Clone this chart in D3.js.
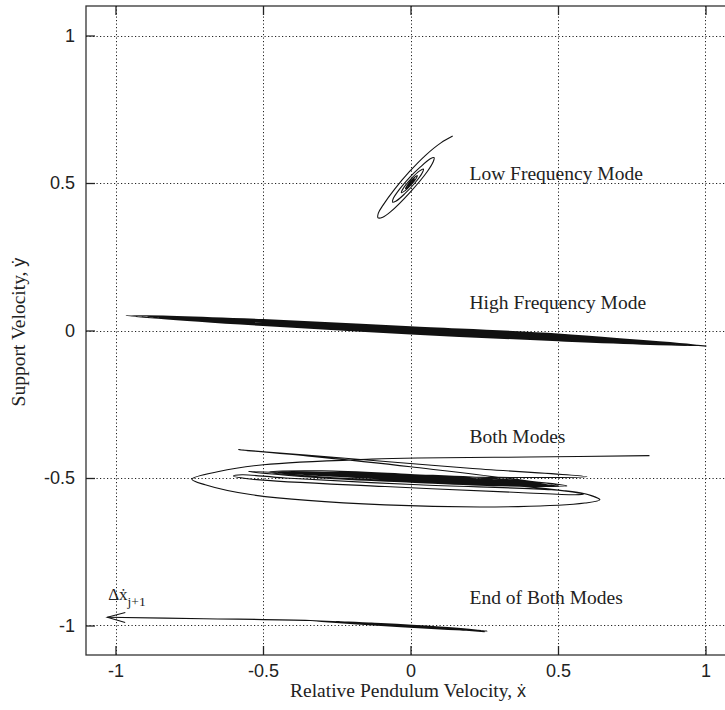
<!DOCTYPE html>
<html>
<head>
<meta charset="utf-8">
<script src="https://cdn.jsdelivr.net/npm/d3@7"></script>
<style>
  body { margin: 0; background: #fff; }
  svg { display: block; }
</style>
</head>
<body>
<div id="chart"></div>
<script>
// axis ticks (same on both axes)
const tickValues = [-1, -0.5, 0, 0.5, 1];

// trajectories [x-dot, y-dot]
const lowFrequency = [
  [0.143, 0.659], [0.103, 0.636], [0.050, 0.593], [-0.003, 0.539], [-0.053, 0.480], [-0.093, 0.425],
  [-0.109, 0.398], [-0.110, 0.382], [-0.094, 0.384], [-0.068, 0.402], [0.000, 0.470], [0.057, 0.539],
  [0.077, 0.572], [0.080, 0.586], [0.067, 0.582], [0.030, 0.551], [-0.002, 0.520], [-0.037, 0.479],
  [-0.059, 0.446], [-0.061, 0.435], [-0.050, 0.438], [-0.020, 0.463], [0.015, 0.500], [0.039, 0.533],
  [0.044, 0.547], [0.031, 0.541], [0.001, 0.513], [-0.025, 0.481], [-0.031, 0.467], [-0.017, 0.475],
  [0.000, 0.492], [0.017, 0.512], [0.023, 0.525], [0.000, 0.506], [-0.017, 0.481], [0.000, 0.495],
  [0.013, 0.514], [0.000, 0.504], [-0.009, 0.490], [0.000, 0.497], [0.007, 0.507], [-0.001, 0.501],
  [-0.005, 0.495], [0.004, 0.504], [-0.002, 0.498], [0.000, 0.500]
];

const highFrequency = [
  [1.003, -0.053], [0.5, -0.012], [0, 0.0125], [-0.5, 0.037],
  [-0.964, 0.051], [-0.5, 0.017], [0, -0.0115], [0.5, -0.035],
  [0.98, -0.051], [0.5, -0.014], [0, 0.011], [-0.5, 0.035],
  [-0.93, 0.048], [-0.5, 0.018], [0, -0.010], [0.5, -0.034],
  [0.955, -0.050], [0.5, -0.016], [0, 0.009], [-0.5, 0.034],
  [-0.91, 0.047], [-0.5, 0.019], [0, -0.008], [0.5, -0.033],
  [0.935, -0.048], [0.5, -0.018], [0, 0.007], [-0.5, 0.032],
  [-0.89, 0.046], [-0.5, 0.020], [0, -0.006], [0.5, -0.031],
  [0.91, -0.047], [0.5, -0.020], [0, 0.005], [-0.5, 0.031],
  [-0.87, 0.045], [-0.5, 0.021], [0, -0.004], [0.5, -0.030],
  [0.89, -0.046], [0.5, -0.021], [0, 0.003], [-0.5, 0.030],
  [-0.85, 0.044], [-0.5, 0.022], [0, -0.002], [0.5, -0.029],
  [0.87, -0.045], [0.5, -0.023], [0, 0.001], [-0.5, 0.028],
  [-0.82, 0.042], [-0.5, 0.024], [0, 0.000], [0.5, -0.027],
  [0.84, -0.043], [0.5, -0.025], [0, 0.0]
];

const bothModes = [
  [0.81, -0.424], [0.40, -0.429], [0.026, -0.432], [-0.131, -0.436], [-0.498, -0.455], [-0.650, -0.478],
  [-0.741, -0.504], [-0.696, -0.523], [-0.537, -0.557], [-0.086, -0.591], [0.365, -0.597], [0.591, -0.585],
  [0.642, -0.574], [0.580, -0.551], [0.478, -0.540], [0.027, -0.523], [-0.425, -0.500], [-0.571, -0.489],
  [-0.600, -0.493], [-0.537, -0.504], [-0.086, -0.529], [0.365, -0.549], [0.557, -0.557], [0.586, -0.555],
  [0.40, -0.530], [0, -0.510], [-0.3, -0.490],
  [-0.55, -0.478], [-0.3, -0.500], [0, -0.514], [0.3, -0.526], [0.53, -0.527], [0.3, -0.503], [0, -0.488], [-0.3, -0.476],
  [-0.48, -0.480], [-0.3, -0.497], [0, -0.511], [0.3, -0.523], [0.50, -0.526],
  [0.0, -0.462], [-0.35, -0.425], [-0.583, -0.404], [-0.2, -0.435], [0.2, -0.467], [0.598, -0.496],
  [0.3, -0.498], [0, -0.493], [-0.3, -0.484],
  [-0.42, -0.482], [-0.2, -0.496], [0.1, -0.509], [0.3, -0.520], [0.47, -0.524], [0.3, -0.507], [0, -0.492], [-0.2, -0.481],
  [-0.36, -0.484], [-0.2, -0.494], [0.1, -0.507], [0.3, -0.518], [0.45, -0.522], [0.25, -0.507], [0, -0.494], [-0.2, -0.484],
  [-0.45, -0.481], [-0.2, -0.497], [0.1, -0.512], [0.3, -0.522], [0.50, -0.528], [0.3, -0.510], [0, -0.494], [-0.2, -0.485],
  [-0.40, -0.481], [-0.2, -0.493], [0.1, -0.508], [0.35, -0.521], [0.48, -0.525], [0.3, -0.512], [0, -0.497], [-0.2, -0.487],
  [-0.35, -0.483], [-0.1, -0.500], [0.2, -0.515], [0.44, -0.524], [0.2, -0.510], [-0.1, -0.494],
  [-0.30, -0.487], [-0.1, -0.498], [0.15, -0.509], [0.42, -0.520], [0.2, -0.508], [-0.05, -0.496],
  [-0.32, -0.485], [-0.1, -0.497], [0.2, -0.512], [0.42, -0.521], [0.2, -0.507], [0, -0.499],
  [-0.25, -0.490], [0, -0.502], [0.2, -0.511], [0.40, -0.518], [0.15, -0.505], [-0.05, -0.497], [-0.2, -0.492]
];

const endOfBothModes = [
  [-0.30, -0.986], [-0.1, -1.000], [0.1, -1.012], [0.26, -1.019], [0.1, -1.005], [-0.1, -0.993],
  [-0.34, -0.984], [-0.1, -0.999], [0.1, -1.011], [0.24, -1.017], [0.1, -1.006], [-0.1, -0.994],
  [-0.28, -0.986], [-0.1, -0.998], [0.1, -1.010], [0.22, -1.015], [0.05, -1.003], [-0.2, -0.990],
  [-0.25, -0.987], [0, -1.004], [0.2, -1.016], [0.25, -1.021], [0.1, -1.009], [-0.1, -0.995],
  [-0.2, -0.989], [0, -1.002], [0.15, -1.013], [0.23, -1.019], [0.1, -1.008], [-0.1, -0.996],
  [-0.34, -0.983], [-0.7, -0.977], [-1.028, -0.972]
];

const modeLabels = ['Low Frequency Mode', 'High Frequency Mode', 'Both Modes', 'End of Both Modes'];
const modeLabelY = [0.511, 0.074, -0.38, -0.926];

const W = 725, H = 710;
const serif = '"Liberation Serif", "Times New Roman", "DejaVu Serif", serif';
const sans = '"Liberation Sans", Arial, "DejaVu Sans", sans-serif';

const x = d3.scaleLinear().domain([-1.1, 1.1]).range([86, 735]);
const y = d3.scaleLinear().domain([-1.1, 1.1]).range([655, 6]);

const svg = d3.select('#chart').append('svg')
  .attr('width', W).attr('height', H)
  .style('overflow', 'hidden');

// dotted grid
const grid = svg.append('g')
  .attr('stroke', '#222')
  .attr('stroke-width', 1)
  .attr('stroke-dasharray', '1.2,2.3');
grid.selectAll('line.v').data(tickValues).join('line')
  .attr('class', 'v')
  .attr('x1', d => Math.round(x(d)) + 0.5).attr('x2', d => Math.round(x(d)) + 0.5)
  .attr('y1', y(1.1)).attr('y2', y(-1.1));
grid.selectAll('line.h').data(tickValues).join('line')
  .attr('class', 'h')
  .attr('y1', d => Math.round(y(d)) + 0.5).attr('y2', d => Math.round(y(d)) + 0.5)
  .attr('x1', x(-1.1)).attr('x2', x(1.1));

// frame
svg.append('rect')
  .attr('x', x(-1.1)).attr('y', y(1.1))
  .attr('width', x(1.1) - x(-1.1)).attr('height', y(-1.1) - y(1.1))
  .attr('fill', 'none').attr('stroke', '#333').attr('stroke-width', 1.3);

const fmt = d => String(d);

const styleAxis = g => {
  g.select('.domain').remove();
  g.selectAll('.tick line').attr('stroke', '#222').attr('stroke-width', 1.3);
  g.selectAll('.tick text').attr('fill', '#222')
    .style('font-family', sans).style('font-size', '18px');
};

svg.append('g').attr('transform', `translate(0,${y(-1.1)})`)
  .call(d3.axisBottom(x).tickValues(tickValues).tickSizeInner(-9).tickSizeOuter(0).tickPadding(9).tickFormat(fmt))
  .call(styleAxis);
svg.append('g').attr('transform', `translate(0,${y(1.1)})`)
  .call(d3.axisTop(x).tickValues(tickValues).tickSizeInner(-9).tickSizeOuter(0).tickFormat(''))
  .call(styleAxis);
svg.append('g').attr('transform', `translate(${x(-1.1)},0)`)
  .call(d3.axisLeft(y).tickValues(tickValues).tickSizeInner(-9).tickSizeOuter(0).tickPadding(11).tickFormat(fmt))
  .call(styleAxis);

// arrowhead for the velocity jump
svg.append('defs').append('marker')
  .attr('id', 'vee')
  .attr('markerUnits', 'userSpaceOnUse')
  .attr('markerWidth', 24).attr('markerHeight', 16)
  .attr('viewBox', '-22 -8 24 16')
  .attr('refX', 0).attr('refY', 0)
  .attr('orient', 'auto')
  .append('path')
  .attr('d', 'M-18,-5 L0,0 L-18,5')
  .attr('fill', 'none').attr('stroke', '#111').attr('stroke-width', 1);

const line = d3.line()
  .x(d => x(d[0])).y(d => y(d[1]))
  .curve(d3.curveCatmullRom.alpha(0.5));

const traj = svg.append('g')
  .attr('fill', 'none').attr('stroke', '#111').attr('stroke-width', 1.1)
  .attr('stroke-linejoin', 'round');

[lowFrequency, highFrequency, bothModes].forEach(series => {
  traj.append('path').attr('d', line(series));
});
traj.append('path').attr('d', line(endOfBothModes)).attr('marker-end', 'url(#vee)');

// mode labels
svg.append('g')
  .selectAll('text').data(modeLabels).join('text')
  .attr('x', x(0.2)).attr('y', (d, i) => y(modeLabelY[i]))
  .attr('fill', '#222')
  .style('font-family', serif).style('font-size', '19.5px')
  .text(d => d);

// jump annotation
const jump = svg.append('text')
  .attr('x', x(-1.025)).attr('y', y(-0.915))
  .attr('fill', '#222')
  .style('font-family', serif).style('font-size', '17px');
jump.append('tspan').text('Δẋ');
jump.append('tspan').attr('dy', 6).style('font-size', '13.5px').text('j+1');

// axis titles
const xt = svg.append('text')
  .attr('x', 408).attr('y', 697)
  .attr('text-anchor', 'middle').attr('fill', '#222')
  .style('font-family', serif).style('font-size', '19.5px');
xt.append('tspan').text('Relative Pendulum Velocity, ');
xt.append('tspan').style('font-family', sans).style('font-size', '18px').text('ẋ');

const yt = svg.append('text')
  .attr('transform', 'translate(25,332) rotate(-90)')
  .attr('text-anchor', 'middle').attr('fill', '#222')
  .style('font-family', serif).style('font-size', '19.5px');
yt.append('tspan').text('Support Velocity, ');
yt.append('tspan').style('font-family', sans).style('font-size', '18px').text('ẏ');
</script>
</body>
</html>
